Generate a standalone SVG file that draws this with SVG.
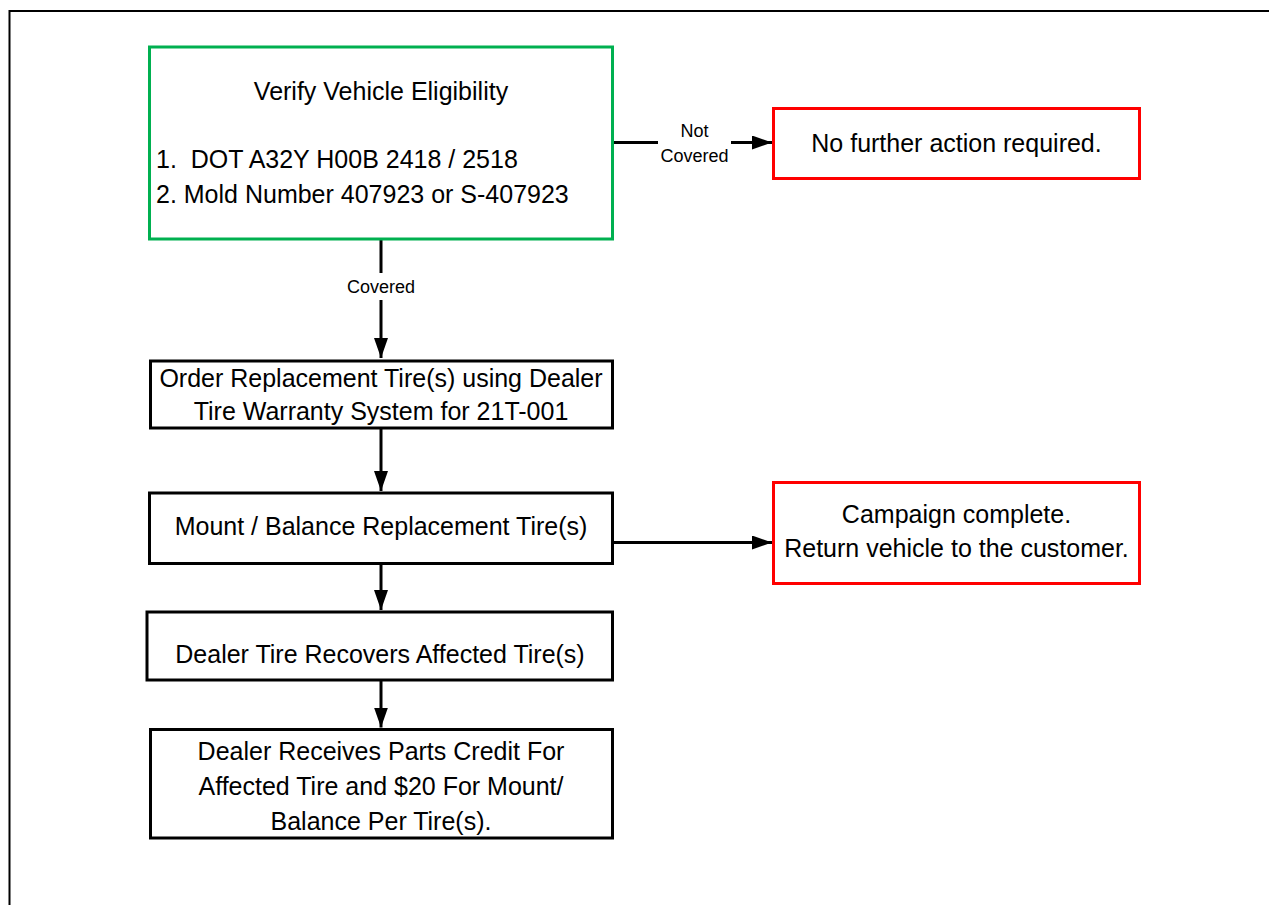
<svg xmlns="http://www.w3.org/2000/svg" width="1269" height="905" viewBox="0 0 1269 905">
  <defs>
    <marker id="arrow" markerUnits="userSpaceOnUse" markerWidth="20" markerHeight="14" refX="20" refY="7" orient="auto">
      <path d="M0,0 L20,7 L0,14 z" fill="#000"/>
    </marker>
    <style>
      text { font-family: "Liberation Sans", Arial, sans-serif; fill: #000; }
      .t { font-size: 25px; }
      .c { text-anchor: middle; }
      .lbl { font-size: 18px; text-anchor: middle; }
      .box { fill: #fff; stroke: #000; stroke-width: 3; }
      .green { fill: #fff; stroke: #00B050; stroke-width: 3; }
      .red { fill: #fff; stroke: #FF0000; stroke-width: 3; }
      .conn { fill: none; stroke: #000; stroke-width: 3; marker-end: url(#arrow); }
    </style>
  </defs>
  <rect x="0" y="0" width="1269" height="905" fill="#fff"/>
  <rect x="9.5" y="11" width="1300" height="1000" fill="none" stroke="#000" stroke-width="2"/>

  <g id="connectors">
    <path class="conn" d="M381,239 V273 M381,300 V358"/>
    <path class="conn" d="M613,142.5 H658 M731,142.5 H772"/>
    <path class="conn" d="M381,428 V491"/>
    <path class="conn" d="M381,563.5 V610"/>
    <path class="conn" d="M381,680 V727.5"/>
    <path class="conn" d="M613,542.5 H772"/>
    <text class="lbl" x="381" y="293">Covered</text>
    <text class="lbl" x="694.5" y="137">Not</text>
    <text class="lbl" x="694.5" y="162">Covered</text>
  </g>

  <g id="verify">
    <rect class="green" x="149.5" y="47" width="463" height="192"/>
    <text class="t c" x="381" y="100">Verify Vehicle Eligibility</text>
    <text class="t" x="156" y="168">1.&#160; DOT A32Y H00B 2418 / 2518</text>
    <text class="t" x="156" y="203">2. Mold Number 407923 or S-407923</text>
  </g>

  <g id="no-action">
    <rect class="red" x="773.5" y="108.5" width="366" height="70"/>
    <text class="t c" x="956.5" y="152">No further action required.</text>
  </g>

  <g id="order">
    <rect class="box" x="150.5" y="361" width="462" height="67"/>
    <text class="t c" x="381" y="387">Order Replacement Tire(s) using Dealer</text>
    <text class="t c" x="381" y="420">Tire Warranty System for 21T-001</text>
  </g>

  <g id="mount">
    <rect class="box" x="149.5" y="493" width="463" height="70.5"/>
    <text class="t c" x="381" y="535">Mount / Balance Replacement Tire(s)</text>
  </g>

  <g id="complete">
    <rect class="red" x="773.5" y="482.5" width="366" height="101"/>
    <text class="t c" x="956.5" y="523">Campaign complete.</text>
    <text class="t c" x="956.5" y="557">Return vehicle to the customer.</text>
  </g>

  <g id="recover">
    <rect class="box" x="147" y="612" width="465.5" height="68"/>
    <text class="t c" x="380" y="663">Dealer Tire Recovers Affected Tire(s)</text>
  </g>

  <g id="credit">
    <rect class="box" x="150.5" y="729.5" width="462" height="108.5"/>
    <text class="t c" x="381" y="760">Dealer Receives Parts Credit For</text>
    <text class="t c" x="381" y="795">Affected Tire and $20 For Mount/</text>
    <text class="t c" x="381" y="830">Balance Per Tire(s).</text>
  </g>
</svg>
